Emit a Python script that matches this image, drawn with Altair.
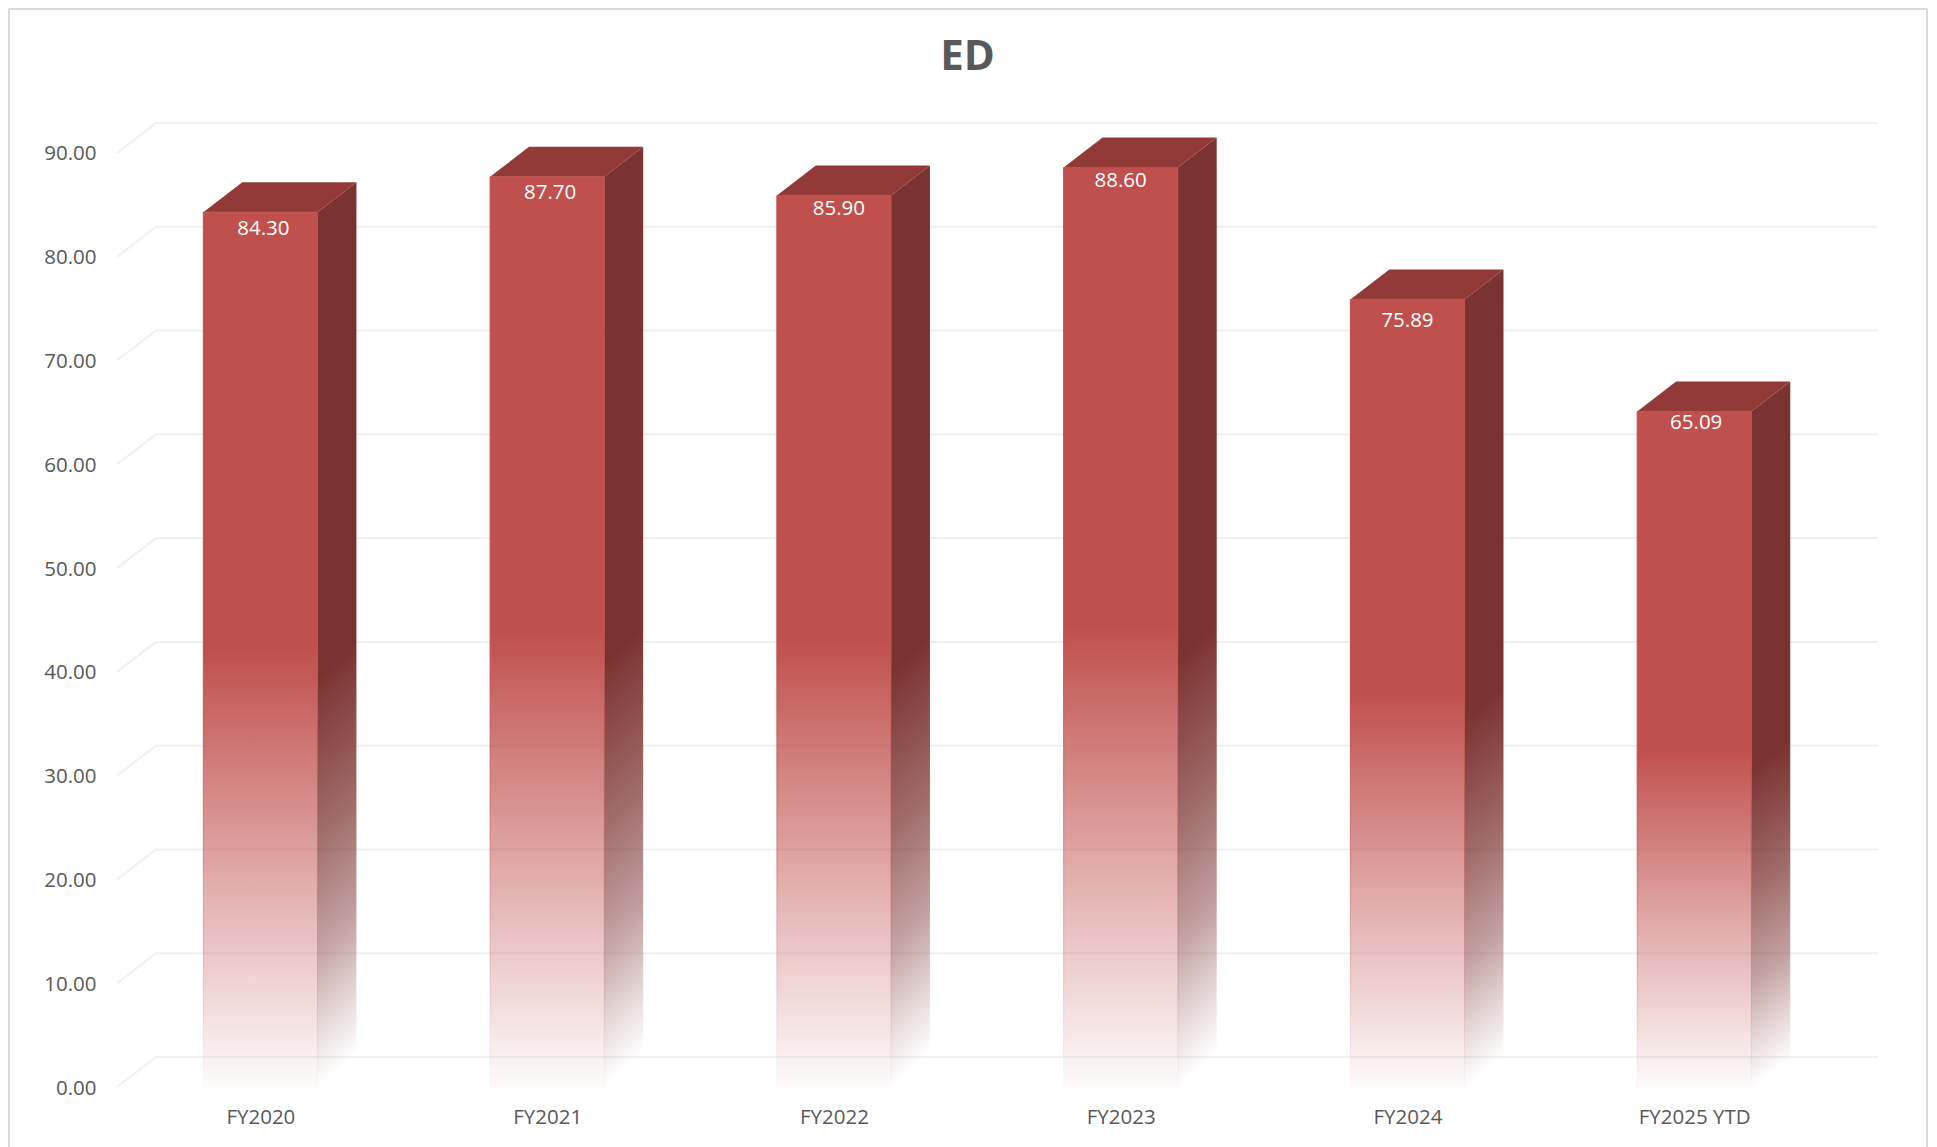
import altair as alt
import pandas as pd

categories = ["FY2020", "FY2021", "FY2022", "FY2023", "FY2024", "FY2025 YTD"]
values = [84.30, 87.70, 85.90, 88.60, 75.89, 65.09]
y_ticks = [0, 10, 20, 30, 40, 50, 60, 70, 80, 90]

FONT = "Open Sans"
TEXT = "#595959"
GRID = "#F0F0F0"
FRONT = (192, 80, 77)
SIDE = (123, 51, 49)
TOP = "#923A38"

# pseudo-3D depth, in data units of the two scales
DEPTH_X = 39 / 287
DEPTH_Y = 30 / 10.38
HALF_W = 0.199

PLOT_W = 1761
PLOT_H = 964
X_DOMAIN = [-0.5, 5.505 + DEPTH_X]
Y_DOMAIN = [0, 90 + DEPTH_Y]

# pixel nudges of each data label from its default place
LABEL_NUDGE = {
    "FY2020": (3, 17), "FY2021": (3, 16), "FY2022": (5, 13.5),
    "FY2023": (0, 13.5), "FY2024": (0, 21.5), "FY2025 YTD": (2, 11),
}


def fade(rgb, stops, x2=0.0):
    r, g, b = rgb
    return alt.LinearGradient(
        gradient="linear", x1=0, y1=0, x2=x2, y2=1,
        stops=[alt.GradientStop(offset=o, color=f"rgba({r},{g},{b},{a})") for o, a in stops],
    )


FRONT_STOPS = [(0, 1), (0.5, 1), (0.75, 0.5), (1, 0.02)]
SIDE_STOPS = [(0, 1), (0.55, 1), (0.72, 0.72), (0.85, 0.45), (0.93, 0.2), (1, 0)]

bars = pd.DataFrame({"cat": categories, "i": range(len(categories)), "v": values})
bars["x0"] = bars.i - HALF_W
bars["x1"] = bars.i + HALF_W
bars["zero"] = 0.0

side_rows, top_rows = [], []
for c, i, v in zip(categories, range(len(categories)), values):
    xr = i + HALF_W
    xl = i - HALF_W
    side_rows += [
        dict(cat=c, x=xr, lo=0.0, hi=v),
        dict(cat=c, x=xr + DEPTH_X, lo=DEPTH_Y, hi=v + DEPTH_Y),
    ]
    top_rows += [
        dict(cat=c, x=xl, lo=v, hi=v),
        dict(cat=c, x=xl + DEPTH_X, lo=v, hi=v + DEPTH_Y),
        dict(cat=c, x=xr, lo=v, hi=v + DEPTH_Y),
        dict(cat=c, x=xr + DEPTH_X, lo=v + DEPTH_Y, hi=v + DEPTH_Y),
    ]
side = pd.DataFrame(side_rows)
top = pd.DataFrame(top_rows)

grid = pd.DataFrame({"t": y_ticks})
grid["back"] = grid.t + DEPTH_Y
grid["xa"] = X_DOMAIN[0]
grid["xb"] = X_DOMAIN[0] + DEPTH_X
grid["xc"] = X_DOMAIN[1]

xs = alt.Scale(domain=X_DOMAIN, nice=False, zero=False)
ys = alt.Scale(domain=Y_DOMAIN, nice=False, zero=False)

label_expr = "[" + ",".join(f"'{c}'" for c in categories) + "][datum.value]"
x_axis = alt.Axis(
    values=list(range(len(categories))), labelExpr=label_expr, title=None, grid=False,
    domain=False, ticks=False, labelFont=FONT, labelFontSize=20.5, labelColor=TEXT,
    labelPadding=20, labelAngle=0, labelOverlap=False, labelFlush=False,
)
y_axis = alt.Axis(
    values=y_ticks, format=".2f", title=None, grid=False, domain=False, ticks=False,
    labelFont=FONT, labelFontSize=20.5, labelColor=TEXT, labelPadding=21, labelOffset=1,
)

back_grid = alt.Chart(grid).mark_rule(color=GRID, strokeWidth=2).encode(
    x=alt.X("xb:Q", scale=xs, axis=x_axis),
    x2="xc:Q",
    y=alt.Y("back:Q", scale=ys, axis=y_axis),
)
wall = alt.Chart(grid).mark_rule(color=GRID, strokeWidth=2).encode(
    x=alt.X("xa:Q", scale=xs), x2="xb:Q",
    y=alt.Y("t:Q", scale=ys), y2="back:Q",
)
side_face = alt.Chart(side).mark_area(color=fade(SIDE, SIDE_STOPS, 0.04), interpolate="linear").encode(
    x=alt.X("x:Q", scale=xs),
    y=alt.Y("hi:Q", scale=ys, stack=None),
    y2="lo:Q",
    detail="cat:N",
)
top_face = alt.Chart(top).mark_area(color=TOP, interpolate="linear").encode(
    x=alt.X("x:Q", scale=xs),
    y=alt.Y("hi:Q", scale=ys, stack=None),
    y2="lo:Q",
    detail="cat:N",
)
front_face = alt.Chart(bars).mark_rect(
    fill=fade(FRONT, FRONT_STOPS), stroke=fade(FRONT, FRONT_STOPS), strokeWidth=1
).encode(
    x=alt.X("x0:Q", scale=xs),
    x2="x1:Q",
    y=alt.Y("v:Q", scale=ys),
    y2="zero:Q",
)
label_layers = [
    alt.Chart(bars).transform_filter(alt.datum.cat == c).mark_text(
        font=FONT, fontSize=20.5, color="#FFFFFF", dx=LABEL_NUDGE[c][0], dy=LABEL_NUDGE[c][1],
        align="center", baseline="middle",
    ).encode(
        x=alt.X("i:Q", scale=xs),
        y=alt.Y("v:Q", scale=ys),
        text=alt.Text("v:Q", format=".2f"),
    )
    for c in categories
]

FRAME = "#D9D9D9"
frame_top = alt.Chart(grid).mark_rule(color=FRAME, strokeWidth=2).encode(
    x=alt.value(-108), x2=alt.value(1810), y=alt.value(-114))
frame_left = alt.Chart(grid).mark_rule(color=FRAME, strokeWidth=2).encode(
    x=alt.value(-108), y=alt.value(-114), y2=alt.value(1024))
frame_right = alt.Chart(grid).mark_rule(color=FRAME, strokeWidth=2).encode(
    x=alt.value(1810), y=alt.value(-114), y2=alt.value(1024))

chart = alt.layer(
    frame_top, frame_left, frame_right, back_grid, wall, side_face, top_face, front_face, *label_layers
).resolve_scale(x="shared", y="shared").properties(
    width=PLOT_W,
    height=PLOT_H,
    padding={"left": 109, "top": 115, "right": 51, "bottom": 60},
    autosize=alt.AutoSizeParams(type="none"),
    background="white",
    title=alt.TitleParams(
        "ED", font=FONT, fontSize=42, fontWeight="bold", color=TEXT,
        anchor="middle", dx=-30, offset=-71,
    ),
).configure_view(stroke=None)

chart.save("out.html", embed_options={"renderer": "svg", "actions": False})
